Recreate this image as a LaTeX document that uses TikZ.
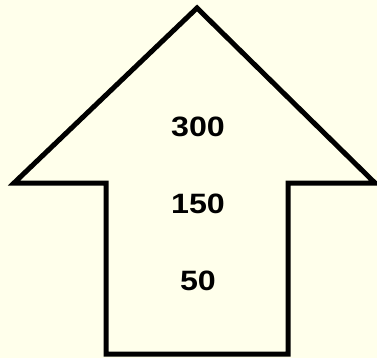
\documentclass[tikz,border=0pt]{standalone}
\usepackage{fontspec}
\setmainfont{Liberation Sans}
\usetikzlibrary{positioning}
\definecolor{cbg}{HTML}{FFFFEB}

\begin{document}
\begin{tikzpicture}[
  x=1pt, y=-1pt,
  arrowshape/.style={draw=black, line width=5pt, line join=miter, fill=cbg},
  num/.style={font=\fontsize{28}{32}\selectfont\bfseries, inner sep=0pt, xscale=1.15},
]
% background
\fill[cbg] (0,0) rectangle (377,358);
\useasboundingbox (0,0) rectangle (377,358);

% =================== arrow ===================
\coordinate (tip) at (197,8);
\coordinate (rw) at (375,183);
\coordinate (lw) at (14,183);
\draw[arrowshape] (tip) -- (rw) -- (288,183) -- (288,354) -- (106,354) -- (106,183) -- (lw) -- cycle;

% =================== values ===================
\node[num] (v300) at (198,127) {300};
\node[num] (v150) at (198,204) {150};
\node[num] (v50) at (198,281) {50};
\end{tikzpicture}
\end{document}
